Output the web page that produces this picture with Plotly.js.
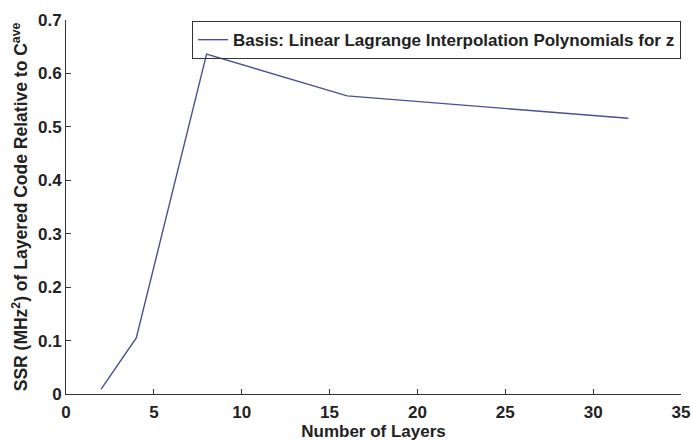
<!DOCTYPE html>
<html><head><meta charset="utf-8">
<script src="https://cdn.plot.ly/plotly-3.0.1.min.js"></script>
<style>html,body{margin:0;padding:0;background:#fff}</style>
</head><body>
<div id="chart" style="width:693px;height:441px"></div>
<script>
const layers = [2, 4, 8, 16, 32];
const ssr = [0.009, 0.105, 0.636, 0.558, 0.516];
const seriesName = 'Basis: Linear Lagrange Interpolation Polynomials for z';
const xTitle = 'Number of Layers';
const yTitle = 'SSR (MHz<sup>2</sup>) of Layered Code Relative to C<sup>ave</sup>';

const fam = 'Liberation Sans, Arial, sans-serif';
const f17 = {family: fam, size: 17, color: '#222', weight: 'bold'};
const fy = {family: fam, size: 17.5, color: '#222', weight: 'bold'};
Plotly.newPlot('chart', [{
  x: layers, y: ssr, type: 'scatter', mode: 'lines', name: seriesName,
  line: {color: '#4b4f94', width: 1.4}
}], {
  width: 693, height: 441,
  margin: {l: 66, r: 12, t: 20, b: 47},
  paper_bgcolor: '#fff', plot_bgcolor: '#fff',
  font: f17,
  showlegend: true,
  legend: {x: 1.0, y: 0.997, xanchor: 'right', yanchor: 'top', bordercolor: '#333', borderwidth: 1,
    bgcolor: 'rgba(255,255,255,0)', font: f17, itemwidth: 30, tracegroupgap: 0},
  xaxis: {range: [0, 35], dtick: 5, showgrid: false, zeroline: false, showline: true, linecolor: '#333', linewidth: 1,
    ticks: 'inside', ticklen: 5, tickcolor: '#333', mirror: false,
    tickfont: f17, ticklabelstandoff: 3,
    title: {text: xTitle, standoff: 3, font: f17}},
  yaxis: {range: [0, 0.7], dtick: 0.1, showgrid: false, zeroline: false, showline: true, linecolor: '#333', linewidth: 1,
    ticks: 'inside', ticklen: 5, tickcolor: '#333', mirror: false,
    tickfont: f17,
    tickformat: '.1~f',
    title: {text: yTitle, standoff: 5, font: fy}}
}, {displayModeBar: false, staticPlot: true});
</script>
</body></html>
